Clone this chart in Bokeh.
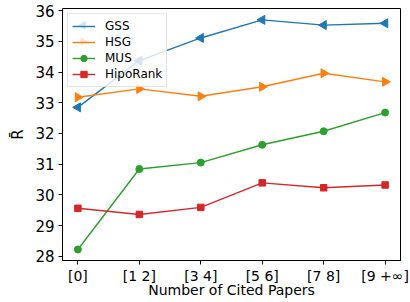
import numpy as np
from bokeh.plotting import figure
from bokeh.models import Range1d, FixedTicker, Legend, LegendItem, ColumnDataSource
from bokeh.embed import file_html
from bokeh.resources import INLINE

categories = ["[0]", "[1 2]", "[3 4]", "[5 6]", "[7 8]", "[9 +\u221e]"]
gss = [32.85, 34.37, 35.11, 35.70, 35.53, 35.59]
hsg = [33.18, 33.45, 33.21, 33.52, 33.96, 33.68]
mus = [28.22, 30.84, 31.05, 31.63, 32.07, 32.68]
hiporank = [29.56, 29.36, 29.59, 30.39, 30.23, 30.32]
y_ticks = [28, 29, 30, 31, 32, 33, 34, 35, 36]
names = ["GSS", "HSG", "MUS", "HipoRank"]

x = list(range(len(categories)))

FW, FH = 338, 252
p = figure(frame_width=FW, frame_height=FH, output_backend="svg", toolbar_location=None,
           x_range=Range1d(-0.25, 5.25), y_range=Range1d(27.86, 36.07),
           min_border_left=62, min_border_right=10, min_border_top=8, min_border_bottom=42)
p.background_fill_color = "white"
p.border_fill_color = "white"
p.outline_line_color = "black"
p.outline_line_width = 1
p.xgrid.visible = False
p.ygrid.visible = False

FONT = "DejaVu Sans"
for ax in (p.xaxis[0], p.yaxis[0]):
    ax.axis_line_color = "black"
    ax.major_tick_line_color = "black"
    ax.major_tick_out = 4
    ax.major_tick_in = 0
    ax.minor_tick_line_color = None
    ax.major_label_text_font = FONT
    ax.axis_label_text_font = FONT
    ax.axis_label_text_font_style = "normal"
    ax.major_label_text_color = "black"
    ax.axis_label_text_color = "black"

p.xaxis.ticker = FixedTicker(ticks=x)
p.xaxis.major_label_overrides = {i: c for i, c in enumerate(categories)}
p.xaxis.major_label_text_font_size = "14px"
p.xaxis.axis_label = "Number of Cited Papers"
p.xaxis.axis_label_text_font_size = "14px"
p.xaxis.major_label_standoff = 3
p.xaxis.axis_label_standoff = -5

p.yaxis.ticker = FixedTicker(ticks=y_ticks)
p.yaxis.major_label_text_font_size = "15px"
p.yaxis.axis_label = "R\u0304"
p.yaxis.axis_label_text_font_size = "15px"
p.yaxis.major_label_standoff = 4
p.yaxis.axis_label_standoff = 5

colors = ["#1f77b4", "#ff7f0e", "#2ca02c", "#d62728"]
series = [gss, hsg, mus, hiporank]
markers = [("triangle", np.pi / 2, 9), ("triangle", -np.pi / 2, 9), ("circle", 0, 7), ("square", 0, 6.5)]

# legend layout parameters (screen px inside the frame)
L_MARGIN, L_PAD, L_H, L_SPACE, L_GW = 5, 4, 16, 0, 23
p.extra_x_ranges = {"lpx": Range1d(0, FW)}
p.extra_y_ranges = {"lpy": Range1d(FH, 0)}

items = []
for i, (name, ys, c, (m, ang, sz)) in enumerate(zip(names, series, colors, markers)):
    src = ColumnDataSource(dict(x=x, y=ys, a=[ang] * len(x)))
    l = p.line("x", "y", source=src, line_color=c, line_width=1.4)
    s = p.scatter("x", "y", source=src, marker=m, angle="a", angle_units="rad",
                  size=sz, fill_color=c, line_color=c)
    if ang == 0:
        items.append(LegendItem(label=name, renderers=[l, s], index=0))
    else:
        items.append(LegendItem(label=name, renderers=[l], index=0))
        # legend marker drawn on top of the legend (Bokeh legends ignore marker angle)
        lx = L_MARGIN + L_PAD + L_GW / 2
        ly = L_MARGIN + L_PAD + L_H / 2 + i * (L_H + L_SPACE)
        p.scatter([lx], [ly], x_range_name="lpx", y_range_name="lpy", marker=m, angle=ang,
                  angle_units="rad", size=7.5, fill_color=c, line_color=c)

legend = Legend(items=items, location="top_left", level="underlay")
legend.margin = L_MARGIN
legend.padding = L_PAD
legend.spacing = L_SPACE
legend.label_height = L_H
legend.glyph_height = L_H
legend.glyph_width = L_GW
legend.label_standoff = 10
legend.label_text_font = FONT
legend.label_text_font_size = "12px"
legend.label_text_color = "black"
legend.border_line_color = "#cccccc"
legend.border_line_width = 1
legend.background_fill_alpha = 0.8
p.add_layout(legend, "center")

open("out.html", "w").write(file_html(p, INLINE))
